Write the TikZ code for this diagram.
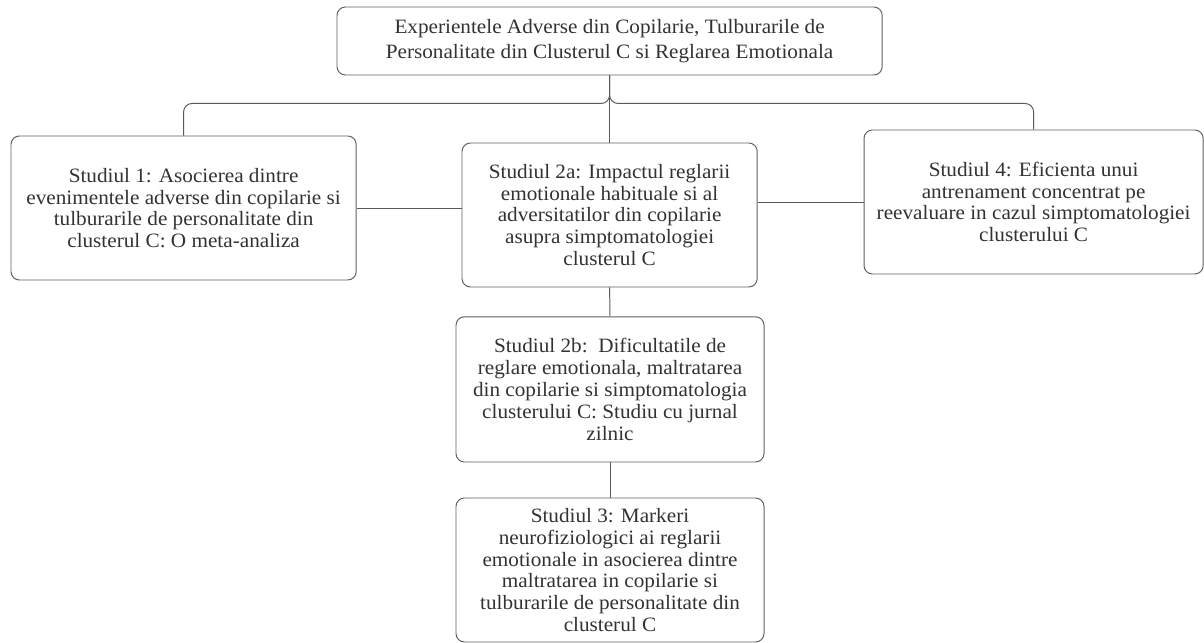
\documentclass[tikz,border=0pt]{standalone}
\usepackage{fontspec}
\setmainfont[FakeStretch=1.04]{Liberation Serif}
\usetikzlibrary{positioning}

\definecolor{boxcolor}{RGB}{96, 96, 96}
\definecolor{linkcolor}{RGB}{90, 90, 90}
\definecolor{txtcolor}{RGB}{50, 50, 50}

\tikzset{
    studybox/.style={draw=boxcolor, line width=0.7pt, rounded corners=6pt,
        align=center, text=txtcolor, inner sep=2pt,
        font=\fontsize{14.5}{15.5}\selectfont},
    link/.style={draw=linkcolor, line width=0.7pt}
}

\begin{document}
\begin{tikzpicture}
            \useasboundingbox (0,0) rectangle (30.1,16.075);

            % Titre
            \node[studybox, minimum width=13.63cm, minimum height=1.7cm,
                font=\fontsize{14.5}{17.5}\selectfont] (title) at (15.24,15.05)
                {Experientele Adverse din Copilarie, Tulburarile de\\
                 Personalitate din Clusterul C si Reglarea Emotionala};

            % Etudes
            \node[studybox, minimum width=8.63cm, minimum height=3.6cm] (s1) at (4.59,10.875)
                {Studiul 1: Asocierea dintre\\
                 evenimentele adverse din copilarie si\\
                 tulburarile de personalitate din\\
                 clusterul C: O meta-analiza};

            \node[studybox, minimum width=7.38cm, minimum height=3.6cm] (s2a) at (15.24,10.7)
                {Studiul 2a: Impactul reglarii\\
                 emotionale habituale si al\\
                 adversitatilor din copilarie\\
                 asupra simptomatologiei\\
                 clusterul C};

            \node[studybox, minimum width=8.48cm, minimum height=3.6cm] (s4) at (25.84,11.025)
                {Studiul 4: Eficienta unui\\
                 antrenament concentrat pe\\
                 reevaluare in cazul simptomatologiei\\
                 clusterului C};

            \node[studybox, minimum width=7.7cm, minimum height=3.63cm] (s2b) at (15.25,6.34)
                {Studiul 2b:\ \ Dificultatile de\\
                 reglare emotionala, maltratarea\\
                 din copilarie si simptomatologia\\
                 clusterului C: Studiu cu jurnal\\
                 zilnic};

            \node[studybox, minimum width=7.7cm, minimum height=3.6cm] (s3) at (15.25,1.825)
                {Studiul 3: Markeri\\
                 neurofiziologici ai reglarii\\
                 emotionale in asocierea dintre\\
                 maltratarea in copilarie si\\
                 tulburarile de personalitate din\\
                 clusterul C};

            % Liens
            \draw[link] (title.south) -- (s2a.north);
            \draw[link, rounded corners=6pt] (title.south) -- ++(0,-0.7) -| (s1.north);
            \draw[link, rounded corners=6pt] (title.south) -- ++(0,-0.7) -| (s4.north);
            \draw[link] (s1.east) -- (s1.east -| s2a.west);
            \draw[link] (s2a.east |- s4.west) -- (s4.west);
            \draw[link] (s2a.south) -- (s2b.north);
            \draw[link] (s2b.south) -- (s3.north);
\end{tikzpicture}
\end{document}
